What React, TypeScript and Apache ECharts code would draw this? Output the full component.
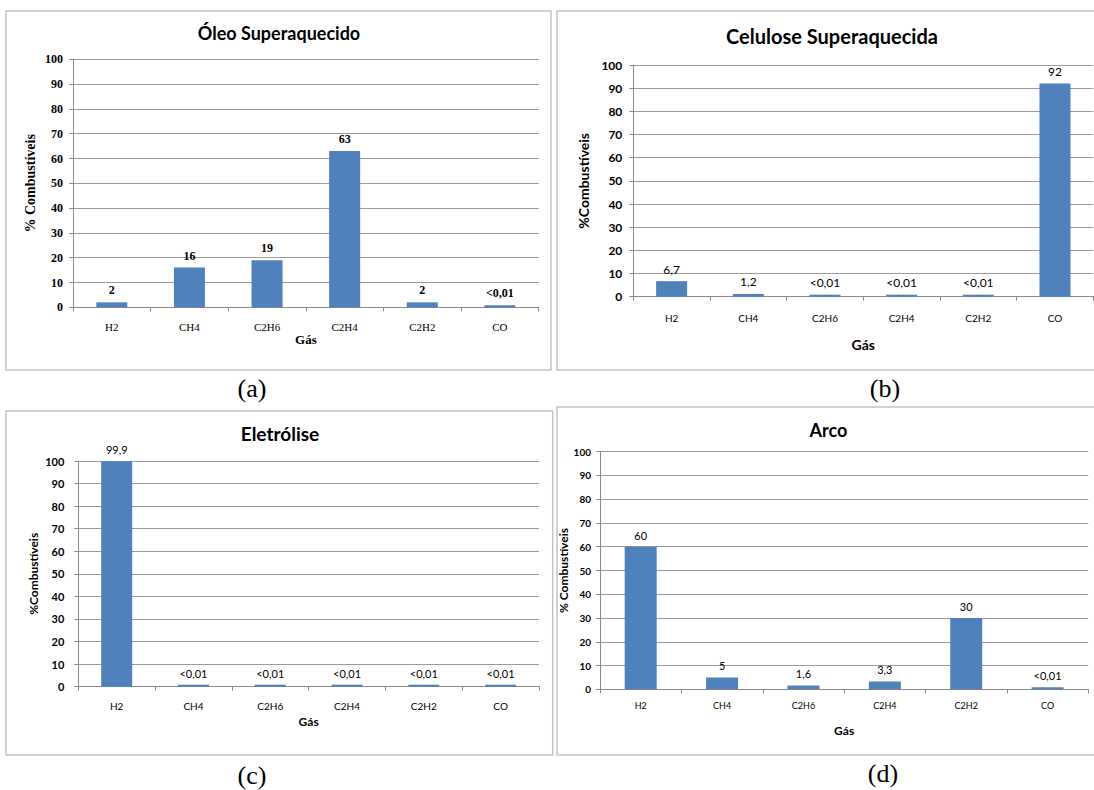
import React, { useEffect, useRef } from "react";
import * as echarts from "echarts";

// ---------- data ----------
const categories = ["H2", "CH4", "C2H6", "C2H4", "C2H2", "CO"];
// "<0,01" values are stored as 0.005 (below 0.01)
const oleoValues = [2, 16, 19, 63, 2, 0.005];
const celuloseValues = [6.7, 1.2, 0.005, 0.005, 0.005, 92];
const eletroliseValues = [99.9, 0.005, 0.005, 0.005, 0.005, 0.005];
const arcoValues = [60, 5, 1.6, 3.3, 30, 0.005];

const titles = ["Óleo Superaquecido", "Celulose Superaquecida", "Eletrólise", "Arco"];
const yNames = ["% Combustíveis", "%Combustíveis", "%Combustíveis", "% Combustíveis"];
const xName = "Gás";
const captions = ["(a)", "(b)", "(c)", "(d)"];
const yMin = 0;
const yMax = 100;
const yStep = 10;

const seriesValues = [oleoValues, celuloseValues, eletroliseValues, arcoValues];

// ---------- layout / styles ----------
const SERIF = '"Liberation Serif", "Times New Roman", serif';
const SANS = 'Lato, "Open Sans", sans-serif';
const BAR = "#4F81BD";
const GRID_LINE = "#9a9a9a";
const AXIS_LINE = "#8a8a8a";
const BORDER = "#c4c4c4";

const panels = [
  {
    grid: { left: 73, top: 59.3, width: 465.7, height: 248 },
    barWidth: 31,
    yNameGap: 36, xNameGap: 26, xLabelMargin: 14, yLabelMargin: 10,
    yLabel: { fontFamily: SERIF, fontWeight: "bold", fontSize: 12 },
    xLabel: { fontFamily: SERIF, fontWeight: "normal", fontSize: 11 },
    dataLabel: { fontFamily: SERIF, fontWeight: "bold", fontSize: 12 },
    yNameStyle: { fontFamily: SERIF, fontWeight: "bold", fontSize: 14 },
    xNameStyle: { fontFamily: SERIF, fontWeight: "bold", fontSize: 13 },
    title: { x: 279, y: 33, size: 18 },
    border: { x: 6, y: 11, w: 545, h: 359 },
    caption: { x: 252, y: 388 },
  },
  {
    grid: { left: 633.3, top: 65, width: 460, height: 231.7 },
    barWidth: 31,
    yNameGap: 43, xNameGap: 41, xLabelMargin: 16, yLabelMargin: 11,
    yLabel: { fontFamily: SANS, fontWeight: "bold", fontSize: 12 },
    xLabel: { fontFamily: SANS, fontWeight: "normal", fontSize: 10 },
    dataLabel: { fontFamily: SANS, fontWeight: "normal", fontSize: 12 },
    yNameStyle: { fontFamily: SANS, fontWeight: "bold", fontSize: 14 },
    xNameStyle: { fontFamily: SANS, fontWeight: "bold", fontSize: 14 },
    title: { x: 832, y: 36, size: 20 },
    border: { x: 557, y: 11, w: 560, h: 359 },
    caption: { x: 885, y: 388 },
  },
  {
    grid: { left: 78.3, top: 461, width: 460.7, height: 225.7 },
    barWidth: 31,
    yNameGap: 39, xNameGap: 29, xLabelMargin: 14, yLabelMargin: 14,
    yLabel: { fontFamily: SANS, fontWeight: "bold", fontSize: 11 },
    xLabel: { fontFamily: SANS, fontWeight: "normal", fontSize: 10 },
    dataLabel: { fontFamily: SANS, fontWeight: "normal", fontSize: 11 },
    yNameStyle: { fontFamily: SANS, fontWeight: "bold", fontSize: 12 },
    xNameStyle: { fontFamily: SANS, fontWeight: "bold", fontSize: 12 },
    title: { x: 280, y: 433, size: 19 },
    border: { x: 6, y: 411, w: 546.7, h: 344 },
    caption: { x: 252, y: 775 },
  },
  {
    grid: { left: 600, top: 451.7, width: 488.3, height: 237.6 },
    barWidth: 32,
    yNameGap: 26, xNameGap: 35, xLabelMargin: 12, yLabelMargin: 9,
    yLabel: { fontFamily: SANS, fontWeight: "bold", fontSize: 10 },
    xLabel: { fontFamily: SANS, fontWeight: "normal", fontSize: 9 },
    dataLabel: { fontFamily: SANS, fontWeight: "normal", fontSize: 11 },
    yNameStyle: { fontFamily: SANS, fontWeight: "bold", fontSize: 12 },
    xNameStyle: { fontFamily: SANS, fontWeight: "bold", fontSize: 12 },
    title: { x: 828.5, y: 430, size: 18 },
    border: { x: 557, y: 407, w: 560, h: 348 },
    caption: { x: 883, y: 773 },
  },
];

const formatValue = (v: number) =>
  v < 0.01 ? "<0,01" : String(v).replace(".", ",");

export default function App() {
  const ref = useRef<HTMLDivElement>(null);

  useEffect(() => {
    if (!ref.current) return;
    const chart = echarts.init(ref.current, undefined, { renderer: "svg" });

    const graphic: any[] = [];
    panels.forEach((p, i) => {
      graphic.push({
        type: "rect",
        silent: true,
        z: -1,
        shape: { x: p.border.x, y: p.border.y, width: p.border.w, height: p.border.h },
        style: { fill: "#ffffff", stroke: BORDER, lineWidth: 1.5 },
      });
      graphic.push({
        type: "text",
        x: p.title.x,
        y: p.title.y,
        style: {
          text: titles[i],
          fontFamily: SANS,
          fontWeight: "bold",
          fontSize: p.title.size,
          fill: "#000",
          align: "center",
          verticalAlign: "middle",
        },
      });
      graphic.push({
        type: "text",
        x: p.caption.x,
        y: p.caption.y,
        style: {
          text: captions[i],
          fontFamily: SERIF,
          fontSize: 26,
          fill: "#000",
          align: "center",
          verticalAlign: "middle",
        },
      });
    });

    const option: any = {
      animation: false,
      backgroundColor: "#ffffff",
      graphic,
      grid: panels.map((p) => ({ ...p.grid, containLabel: false })),
      xAxis: panels.map((p, i) => ({
        type: "category",
        gridIndex: i,
        data: categories,
        name: xName,
        nameLocation: "middle",
        nameGap: p.xNameGap,
        nameTextStyle: { ...p.xNameStyle, color: "#000" },
        axisLine: { show: true, lineStyle: { color: AXIS_LINE, width: 1 } },
        axisTick: { show: true, length: 4, lineStyle: { color: AXIS_LINE } },
        axisLabel: { ...p.xLabel, color: "#000", margin: p.xLabelMargin, interval: 0 },
        splitLine: { show: false },
      })),
      yAxis: panels.map((p, i) => ({
        type: "value",
        gridIndex: i,
        min: yMin,
        max: yMax,
        interval: yStep,
        name: yNames[i],
        nameLocation: "middle",
        nameGap: p.yNameGap,
        nameTextStyle: { ...p.yNameStyle, color: "#000" },
        axisLine: { show: true, lineStyle: { color: AXIS_LINE, width: 1 } },
        axisTick: { show: true, length: 4, lineStyle: { color: AXIS_LINE } },
        axisLabel: { ...p.yLabel, color: "#000", margin: p.yLabelMargin },
        splitLine: { show: true, lineStyle: { color: GRID_LINE, width: 1 } },
      })),
      series: panels.map((p, i) => ({
        type: "bar",
        name: titles[i],
        xAxisIndex: i,
        yAxisIndex: i,
        data: seriesValues[i],
        barWidth: p.barWidth,
        barMinHeight: 2,
        itemStyle: { color: BAR },
        label: {
          show: true,
          position: "top",
          distance: 6,
          color: "#000",
          ...p.dataLabel,
          formatter: (params: any) => formatValue(params.value),
        },
      })),
    };

    chart.setOption(option);
    return () => chart.dispose();
  }, []);

  return (
    <div
      ref={ref}
      style={{ position: "fixed", left: 0, top: 0, width: 1094, height: 790, background: "#fff" }}
    />
  );
}
